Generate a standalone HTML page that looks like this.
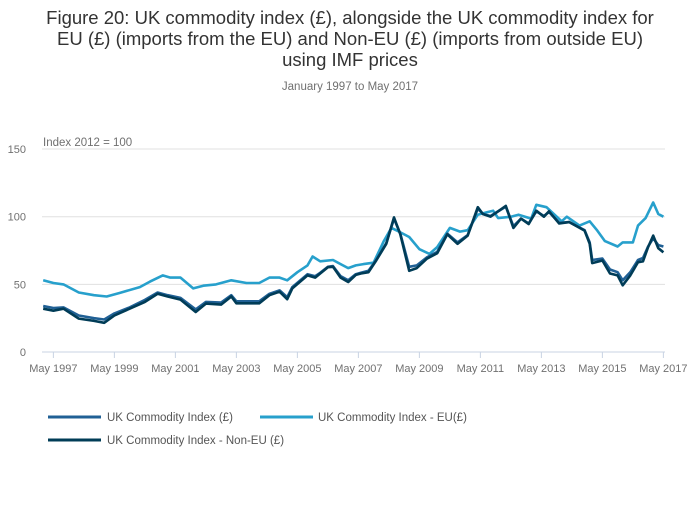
<!DOCTYPE html>
<html><head><meta charset="utf-8"><style>
body{margin:0;background:#fff;font-family:"Liberation Sans",sans-serif;}
svg text{font-family:"Liberation Sans",sans-serif;}
</style></head><body>
<svg width="700" height="502" viewBox="0 0 700 502">
<g fill="#333" font-size="18.5" text-anchor="middle">
<text x="350" y="24">Figure 20: UK commodity index (£), alongside the UK commodity index for</text>
<text x="350" y="45">EU (£) (imports from the EU) and Non-EU (£) (imports from outside EU)</text>
<text x="350" y="66">using IMF prices</text>
</g>
<text x="350" y="90" text-anchor="middle" font-size="11.5" fill="#707070">January 1997 to May 2017</text>
<text x="43" y="146" font-size="11.5" fill="#707070">Index 2012 = 100</text>
<g id="grid"></g><g id="xaxis"></g><g id="series"></g>
<g font-size="11.5" fill="#555">
<g><line x1="48" y1="417" x2="101" y2="417" stroke="#206095" stroke-width="3"/><text x="107" y="421">UK Commodity Index (£)</text></g>
<g><line x1="260" y1="417" x2="313" y2="417" stroke="#27a0cc" stroke-width="3"/><text x="318" y="421">UK Commodity Index - EU(£)</text></g>
<g><line x1="48" y1="440" x2="101" y2="440" stroke="#003c57" stroke-width="3"/><text x="107" y="444">UK Commodity Index - Non-EU (£)</text></g>
</g>
</svg>
<script>
// months since Jan 1997
const euMonths=[0,4,8,14,20,25,30,38,42,47,50,54,59,63,68,74,80,85,89,93,96,100,104,106,109,114,117,120,123,126,130,134,137,140,144,148,152,155,160,164,167,171,174,177,179,184,187,192,194,198,204,206,211,215,218,221,226,228,232,234,237,240,242,244];
const euValues=[53,51,50,44,42,41,43.6,48,52,56.6,55,55,47,49,50,53,51,51,55,55,53,59,64,70.6,67,68,65,62,64,65,66,82,91.7,89,85,76,72.5,77.5,91.7,89,90,101.5,103,104.4,99,100,101.5,98.6,108.8,107,96.6,100,93.4,96.6,89.7,82,78,81,81,93.4,99,110.5,102,100];
const ncMonths=[0,4,8,14,20,24,28,34,40,45,49,54,60,64,70,74,76,85,89,93,96,98,104,107,109,112,114,117,120,123,125,128,131,135,138,140.5,144,147,151,155,159,163,167,171,173,176,182,185,188,191,194,197,199,203,207,213,215,216,220,223,226,228,231,234,236,238,240,242,244];
const nonEuValues=[32,30.5,32,24.7,23,21.6,27,32,37,43,41,38.7,29.6,35.8,35,41,36,36,42,44.6,39,47,56.6,55,58,62.7,63,55,51.7,57,58,59,67.6,80,99.5,87,60,62,69,73,87,80,86,107,102,100,108,91.7,98.6,94.6,104.4,100,104,95,96,89.7,80,65.7,67.6,58,56.6,49.3,56.6,66.4,67,77.5,86,76.7,73.7];
const ukValues=[34,32.5,33,27,25,24,28.5,33,38.5,44,42,40,31.5,37,36.5,42,37.5,37.5,43,45.5,40.5,48,57.5,56,58.5,63,63.5,56,53,57.5,58.5,60,68,80.5,98.5,87.5,63,64,70,74,87.5,81,86.5,106,102,100.5,107.5,93,98.5,95,104,100.5,103.5,95.5,96,90,81,68,69,61,59,53,59,68,69.5,78,84,79,78];
const yTicks=[0,50,100,150];
const xTickLabels=["May 1997","May 1999","May 2001","May 2003","May 2005","May 2007","May 2009","May 2011","May 2013","May 2015","May 2017"];
const xTickMonths=[4,28,52,76,100,124,148,172,196,220,244];

const NS="http://www.w3.org/2000/svg";
const x=m=>43.2+m*2.5417;
const y=v=>352-v*1.353;
function mk(t,a,p){const e=document.createElementNS(NS,t);for(const k in a)e.setAttribute(k,a[k]);p.appendChild(e);return e;}
const grid=document.getElementById('grid');
yTicks.forEach(v=>{
  if(v>0){const l=mk('line',{x1:42,x2:665,y1:y(v),y2:y(v),stroke:'#e0e0e0','stroke-width':1},grid);
  
  }
  const t=mk('text',{x:26,y:y(v)+4,'font-size':11,fill:'#707070','text-anchor':'end'},grid);
  
  
  t.textContent=v;
});
const xa=document.getElementById('xaxis');
const ax=mk('line',{x1:42,x2:665,y1:352,y2:352,stroke:'#c8d3e3','stroke-width':1},xa);


xTickLabels.forEach((s,i)=>{
  const tk=mk('line',{x1:x(xTickMonths[i]),x2:x(xTickMonths[i]),y1:352,y2:358,stroke:'#c8d3e3'},xa);
  
  
  const t=mk('text',{x:x(xTickMonths[i]),y:372,'font-size':11,fill:'#707070','text-anchor':'middle'},xa);
  
  
  t.textContent=s;
});
const sg=document.getElementById('series');
function line(ms,vs,c,name){
  const d=ms.map((m,i)=>(i?'L':'M')+x(m).toFixed(1)+','+y(vs[i]).toFixed(1)).join('');
  const p=mk('path',{d:d,fill:'none',stroke:c,'stroke-width':2.6,'stroke-linejoin':'round'},sg);
  
  
}
line(euMonths,euValues,'#27a0cc','eu-series-line');
line(ncMonths,ukValues,'#206095','uk-series-line');
line(ncMonths,nonEuValues,'#003c57','non-eu-series-line');
</script>
</body></html>
